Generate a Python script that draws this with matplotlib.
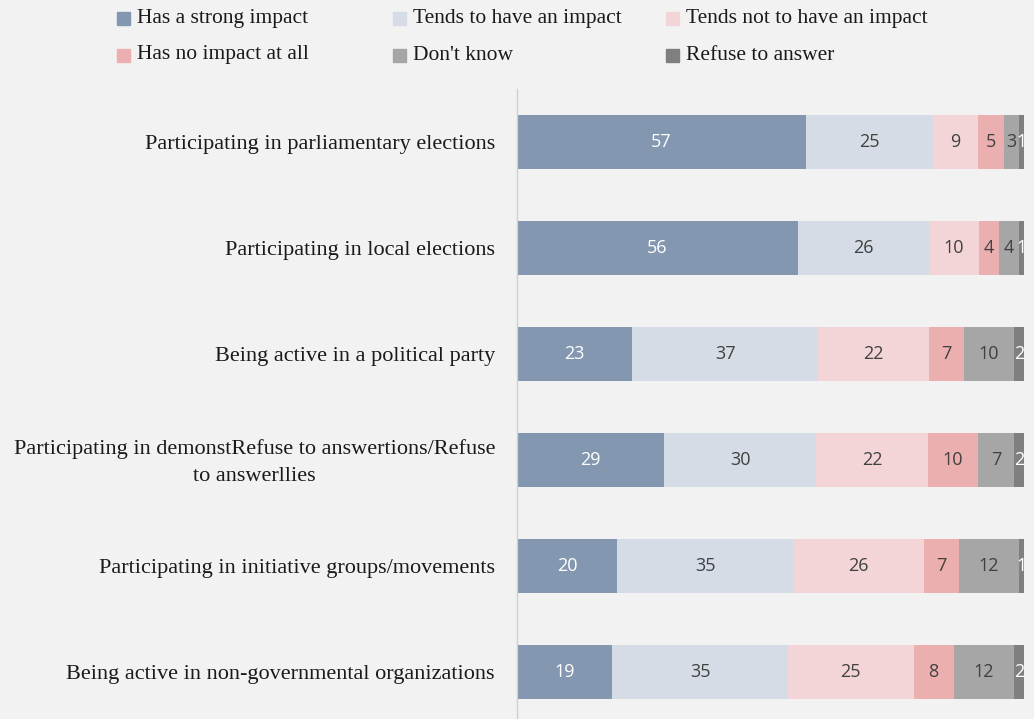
import matplotlib
matplotlib.use("Agg")
import matplotlib.pyplot as plt
from matplotlib.patches import Rectangle
from matplotlib.transforms import blended_transform_factory, offset_copy

categories = [
    "Participating in parliamentary elections",
    "Participating in local elections",
    "Being active in a political party",
    "Participating in demonstRefuse to answertions/Refuse\nto answerllies",
    "Participating in initiative groups/movements",
    "Being active in non-governmental organizations",
]
series_names = [
    "Has a strong impact",
    "Tends to have an impact",
    "Tends not to have an impact",
    "Has no impact at all",
    "Don't know",
    "Refuse to answer",
]
strong = [57, 56, 23, 29, 20, 19]
tends = [25, 26, 37, 30, 35, 35]
tends_not = [9, 10, 22, 22, 26, 25]
no_impact = [5, 4, 7, 10, 7, 8]
dont_know = [3, 4, 10, 7, 12, 12]
refuse = [1, 1, 2, 2, 1, 2]
series = [strong, tends, tends_not, no_impact, dont_know, refuse]

colors = ["#8497b0", "#d6dce5", "#f4d5d7", "#ebafb0", "#a6a6a6", "#7f7f7f"]
label_colors = ["white", "#404040", "#404040", "#404040", "#404040", "white"]

BG = "#f2f2f2"
serif = ["Liberation Serif", "DejaVu Serif"]

W, H = 1034, 719
fig = plt.figure(figsize=(W / 100, H / 100), dpi=100, facecolor=BG)
ax = fig.add_axes([517 / W, 1 - 725 / H, (1024 - 517) / W, (725 - 89) / H])
ax.set_facecolor(BG)

# 100% stacked bars: each row is scaled to its own total
ypos = list(range(len(categories)))
totals = [sum(col) for col in zip(*series)]
left = [0.0] * len(categories)
for vals, col, tcol in zip(series, colors, label_colors):
    widths = [v / t * 100 for v, t in zip(vals, totals)]
    bars = ax.barh(ypos, widths, left=left, height=0.51, color=col,
                   edgecolor="none")
    for b, v in zip(bars, vals):
        ax.text(b.get_x() + b.get_width() / 2, b.get_y() + b.get_height() / 2,
                str(v), ha="center", va="center", color=tcol,
                fontsize=13, family="Open Sans")
    left = [l + w for l, w in zip(left, widths)]

ax.set_xlim(0, 100)
ax.set_ylim(len(categories) - 0.5, -0.5)
ax.set_xticks([])
ax.set_yticks(ypos)
ax.set_yticklabels([])
ax.tick_params(axis="y", length=0)

# category labels, right-aligned next to the axis line
lab_tr = offset_copy(blended_transform_factory(ax.transAxes, ax.transData),
                     fig=fig, x=-22, y=-2.5, units="dots")
for y, name in zip(ypos, categories):
    ax.text(0, y, name, transform=lab_tr, ha="right", va="center",
            multialignment="center", linespacing=1.55,
            family=serif, fontsize=16, color="#1a1a1a")

for s in ["top", "right", "bottom"]:
    ax.spines[s].set_visible(False)
ax.spines["left"].set_color("#d0d0d0")
ax.spines["left"].set_linewidth(1.0)

# legend laid out in two rows of three entries
leg_x = [117, 393, 666]
leg_y = [18, 55]
for i, (name, col) in enumerate(zip(series_names, colors)):
    r, c = divmod(i, 3)
    x0, yc = leg_x[c], leg_y[r]
    fig.patches.append(Rectangle((x0 / W, 1 - (yc + 6.5) / H), 13 / W, 13 / H,
                                 transform=fig.transFigure, color=col))
    fig.text((x0 + 20) / W, 1 - yc / H, name, ha="left", va="center",
             family=serif, fontsize=15.5, color="#1a1a1a")

fig.savefig("out.png", dpi=100, facecolor=BG)
